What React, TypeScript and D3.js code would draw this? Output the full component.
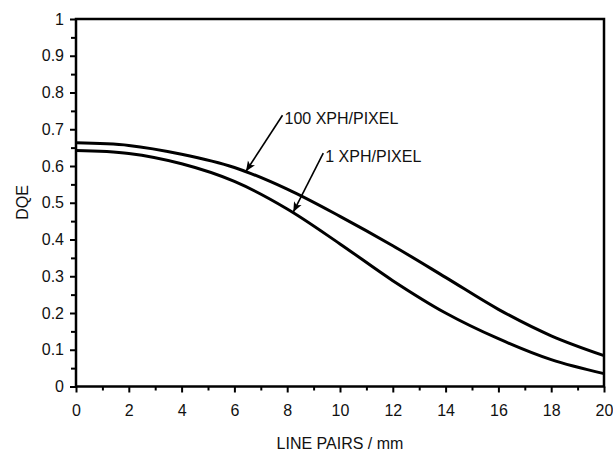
import React, { useEffect, useRef } from 'react';
import * as d3 from 'd3';

// line pairs / mm
const linePairs = [0, 2, 4, 6, 8, 10, 12, 14, 16, 18, 20];
// DQE for 100 XPH/PIXEL
const dqe100 = [0.663, 0.656, 0.632, 0.596, 0.537, 0.463, 0.383, 0.297, 0.21, 0.138, 0.084];
// DQE for 1 XPH/PIXEL
const dqe1 = [0.642, 0.634, 0.606, 0.558, 0.483, 0.388, 0.288, 0.2, 0.13, 0.073, 0.035];

const xTicks = [0, 2, 4, 6, 8, 10, 12, 14, 16, 18, 20];
const yTicks = [0, 0.1, 0.2, 0.3, 0.4, 0.5, 0.6, 0.7, 0.8, 0.9, 1];

const labels = ['100 XPH/PIXEL', '1 XPH/PIXEL'];
const tipAt = [6.44, 8.23];

const W = 613;
const H = 452;
const margin = { top: 19, right: 9, bottom: 65.5, left: 76 };
const font = 'Liberation Sans, Arial, Helvetica, sans-serif';

const App = () => {
  const svgRef = useRef<SVGSVGElement>(null);

  useEffect(() => {
    const root = d3.select(svgRef.current);
    root.selectAll('*').remove();

    const width = W - margin.left - margin.right;
    const height = H - margin.top - margin.bottom;

    const x = d3.scaleLinear().domain([0, 20]).range([0, width]);
    const y = d3.scaleLinear().domain([0, 1]).range([height, 0]);

    const defs = root.append('defs');
    defs
      .append('marker')
      .attr('id', 'arrow')
      .attr('viewBox', '0 0 10 10')
      .attr('refX', 10)
      .attr('refY', 5)
      .attr('markerWidth', 10)
      .attr('markerHeight', 10)
      .attr('markerUnits', 'userSpaceOnUse')
      .attr('orient', 'auto')
      .append('path')
      .attr('d', 'M0,0.8 L10,5 L0,9.2 L2.5,5 Z')
      .attr('fill', '#000');

    const g = root.append('g').attr('transform', `translate(${margin.left},${margin.top})`);

    // minor ticks
    g.append('g')
      .attr('transform', `translate(0,${height})`)
      .call(d3.axisBottom(x).tickValues(d3.range(1, 20, 2)).tickSize(4).tickFormat(() => ''))
      .call((a) => a.select('.domain').remove())
      .call((a) => a.selectAll('line').attr('stroke-width', 2));
    g.append('g')
      .call(d3.axisLeft(y).tickValues(d3.range(0.05, 1, 0.1)).tickSize(5).tickFormat(() => ''))
      .call((a) => a.select('.domain').remove())
      .call((a) => a.selectAll('line').attr('stroke-width', 2));

    // major ticks
    const xa = g
      .append('g')
      .attr('transform', `translate(0,${height})`)
      .call(d3.axisBottom(x).tickValues(xTicks).tickSize(6).tickPadding(12).tickFormat(d3.format('d')));
    const ya = g
      .append('g')
      .call(d3.axisLeft(y).tickValues(yTicks).tickSize(6).tickPadding(6).tickFormat((d) => String(+d)));
    [xa, ya].forEach((a) => {
      a.select('.domain').remove();
      a.selectAll('line').attr('stroke-width', 2);
      a.selectAll('text').attr('font-size', 16).attr('font-family', font).attr('fill', '#111');
    });

    // frame
    g.append('rect')
      .attr('width', width)
      .attr('height', height)
      .attr('fill', 'none')
      .attr('stroke', '#000')
      .attr('stroke-width', 2.5);

    const line = d3
      .line<number>()
      .x((_, i) => x(linePairs[i]))
      .y((d) => y(d))
      .curve(d3.curveCatmullRom.alpha(0.5));

    const series = [dqe100, dqe1];
    series.forEach((s) => {
      g.append('path')
        .datum(s)
        .attr('fill', 'none')
        .attr('stroke', '#000')
        .attr('stroke-width', 3)
        .attr('d', line);
    });

    // annotations
    const textOffsets = [
      [38.5, -48.5],
      [32, -51.5],
    ];
    series.forEach((s, i) => {
      const interp = d3.scaleLinear().domain(linePairs).range(s);
      const tx = x(tipAt[i]);
      const ty = y(interp(tipAt[i]));
      const lx = tx + textOffsets[i][0];
      const ly = ty + textOffsets[i][1];
      g.append('line')
        .attr('x1', lx - 2)
        .attr('y1', ly - 8.5)
        .attr('x2', tx)
        .attr('y2', ty - 1)
        .attr('stroke', '#000')
        .attr('stroke-width', 1.6)
        .attr('marker-end', 'url(#arrow)');
      g.append('text')
        .attr('x', lx)
        .attr('y', ly)
        .attr('font-size', 16)
        .attr('font-family', font)
        .attr('fill', '#111')
        .text(labels[i]);
    });

    // axis titles
    root
      .append('text')
      .attr('x', margin.left + width / 2)
      .attr('y', 449)
      .attr('text-anchor', 'middle')
      .attr('font-size', 16)
      .attr('font-family', font)
      .attr('fill', '#111')
      .text('LINE PAIRS / mm');
    root
      .append('text')
      .attr('transform', `translate(28,202.5) rotate(-90)`)
      .attr('text-anchor', 'middle')
      .attr('font-size', 16)
      .attr('font-family', font)
      .attr('fill', '#111')
      .text('DQE');
  }, []);

  return (
    <svg
      ref={svgRef}
      width={W}
      height={H}
      style={{ position: 'absolute', left: 0, top: 0, background: '#fff' }}
    />
  );
};

export default App;
